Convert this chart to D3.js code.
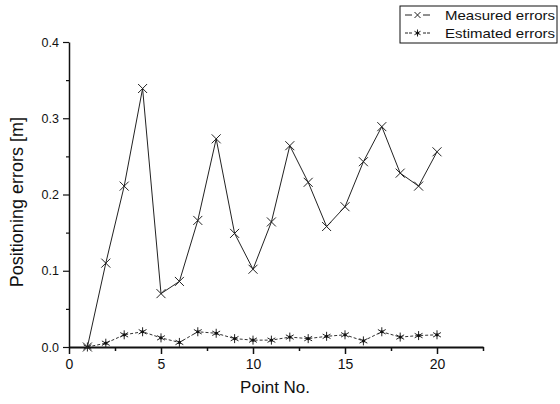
<!DOCTYPE html>
<html>
<head>
<meta charset="utf-8">
<script src="https://cdn.jsdelivr.net/npm/d3@7"></script>
<style>
  body { margin: 0; background: #fff; }
  text { font-family: "Liberation Sans", Arial, sans-serif; fill: #111; }
</style>
</head>
<body>
<div id="chart"></div>
<script>
// Data
const points = d3.range(1, 21);
const measured = [0.0, 0.110, 0.211, 0.339, 0.070, 0.086, 0.166, 0.273, 0.149, 0.102,
  0.164, 0.264, 0.216, 0.158, 0.184, 0.243, 0.289, 0.228, 0.211, 0.256];
const estimated = [0.0, 0.005, 0.016, 0.020, 0.012, 0.006, 0.020, 0.018, 0.011, 0.009,
  0.009, 0.013, 0.011, 0.014, 0.016, 0.008, 0.020, 0.013, 0.015, 0.016];
const xTicks = [0, 5, 10, 15, 20];
const yTicks = [0, 0.1, 0.2, 0.3, 0.4];
const seriesNames = ['Measured errors', 'Estimated errors'];

// Set graph sizes
const margin = { top: 42, right: 77, bottom: 57, left: 69 };
const width = 560 - margin.left - margin.right;
const height = 404 - margin.top - margin.bottom;

const svg = d3.select('#chart')
  .append('svg')
  .attr('width', 560)
  .attr('height', 404);

const g = svg.append('g')
  .attr('transform', `translate(${margin.left},${margin.top})`);

const x = d3.scaleLinear().domain([0, 22.5]).range([0, width]);
const y = d3.scaleLinear().domain([0, 0.4]).range([height, 0]);

// minor ticks first
g.append('g')
  .attr('transform', `translate(0,${height})`)
  .call(d3.axisBottom(x).tickValues([2.5, 7.5, 12.5, 17.5, 22.5]).tickSize(4).tickFormat(''))
  .call((a) => a.select('.domain').remove())
  .selectAll('line').attr('stroke', '#111').attr('stroke-width', 1.5);
g.append('g')
  .call(d3.axisLeft(y).tickValues([0.05, 0.15, 0.25, 0.35]).tickSize(3).tickFormat(''))
  .call((a) => a.select('.domain').remove())
  .selectAll('line').attr('stroke', '#111').attr('stroke-width', 1.2);

// x-axis
const xAxis = g.append('g')
  .attr('transform', `translate(0,${height})`)
  .call(d3.axisBottom(x).tickValues(xTicks).tickSize(7).tickSizeOuter(0).tickPadding(5));
xAxis.select('.domain').attr('stroke', '#111').attr('stroke-width', 2);
xAxis.selectAll('.tick line').attr('stroke', '#111').attr('stroke-width', 1.5);
xAxis.selectAll('text').attr('font-size', 14)
  .attr('font-family', '"Liberation Sans", Arial, sans-serif').attr('fill', '#111');

// y-axis
const yAxis = g.append('g')
  .call(d3.axisLeft(y).tickValues(yTicks).tickSize(6).tickSizeOuter(0)
    .tickPadding(4).tickFormat(d3.format('.1f')));
yAxis.select('.domain').attr('stroke', '#111').attr('stroke-width', 1.5);
yAxis.selectAll('.tick line').attr('stroke', '#111').attr('stroke-width', 1.2);
yAxis.selectAll('text').attr('font-size', 12.5)
  .attr('font-family', '"Liberation Sans", Arial, sans-serif').attr('fill', '#111');

// axis titles
g.append('text')
  .attr('x', x(11.2))
  .attr('y', height + 46)
  .attr('text-anchor', 'middle')
  .attr('font-size', 17)
  .text('Point No.');
g.append('text')
  .attr('transform', `translate(${-46},${y(0.19)}) rotate(-90)`)
  .attr('text-anchor', 'middle')
  .attr('font-size', 18)
  .text('Positioning errors [m]');

// markers
const cross = (sel, s) => sel.append('path')
  .attr('d', `M${-s},${-s}L${s},${s}M${-s},${s}L${s},${-s}`)
  .attr('stroke', '#222').attr('stroke-width', 1).attr('fill', 'none');
const star = (sel, s) => {
  sel.append('path')
    .attr('d', `M0,${-s}L0,${s}M${-s * 0.87},${-s / 2}L${s * 0.87},${s / 2}M${-s * 0.87},${s / 2}L${s * 0.87},${-s / 2}`)
    .attr('stroke', '#222').attr('stroke-width', 1).attr('fill', 'none');
  sel.append('circle').attr('r', 1.6).attr('fill', '#111');
};

const line = d3.line()
  .x((d) => x(d[0]))
  .y((d) => y(d[1]));

const mData = points.map((p, i) => [p, measured[i]]);
const eData = points.map((p, i) => [p, estimated[i]]);

g.append('path')
  .datum(eData)
  .attr('fill', 'none')
  .attr('stroke', '#333')
  .attr('stroke-width', 1)
  .attr('stroke-dasharray', '3,2')
  .attr('d', line);
g.selectAll('.est')
  .data(eData)
  .join('g')
  .attr('class', 'est')
  .attr('transform', (d) => `translate(${x(d[0])},${y(d[1])})`)
  .each(function () { star(d3.select(this), 4.5); });

g.append('path')
  .datum(mData)
  .attr('fill', 'none')
  .attr('stroke', '#222')
  .attr('stroke-width', 1)
  .attr('d', line);
g.selectAll('.meas')
  .data(mData)
  .join('g')
  .attr('class', 'meas')
  .attr('transform', (d) => `translate(${x(d[0])},${y(d[1])})`)
  .each(function () { cross(d3.select(this), 4.5); });

// legend
const legend = svg.append('g').attr('transform', 'translate(400,6)');
legend.append('rect')
  .attr('width', 157).attr('height', 37)
  .attr('fill', '#fff').attr('stroke', '#111').attr('stroke-width', 1);
seriesNames.forEach((name, i) => {
  const row = legend.append('g').attr('transform', `translate(0,${9 + i * 18})`);
  [[5, 12], [23, 30]].forEach(([a, b]) => row.append('line')
    .attr('x1', a).attr('x2', b)
    .attr('stroke', '#222').attr('stroke-width', 1)
    .attr('stroke-dasharray', i === 0 ? null : '3,1'));
  const m = row.append('g').attr('transform', 'translate(17.5,0)');
  if (i === 0) cross(m, 3); else star(m, 3.5);
  row.append('text')
    .attr('x', 45).attr('y', 4.5)
    .attr('font-size', 13)
    .attr('textLength', 110)
    .attr('lengthAdjust', 'spacingAndGlyphs')
    .text(name);
});
</script>
</body>
</html>
